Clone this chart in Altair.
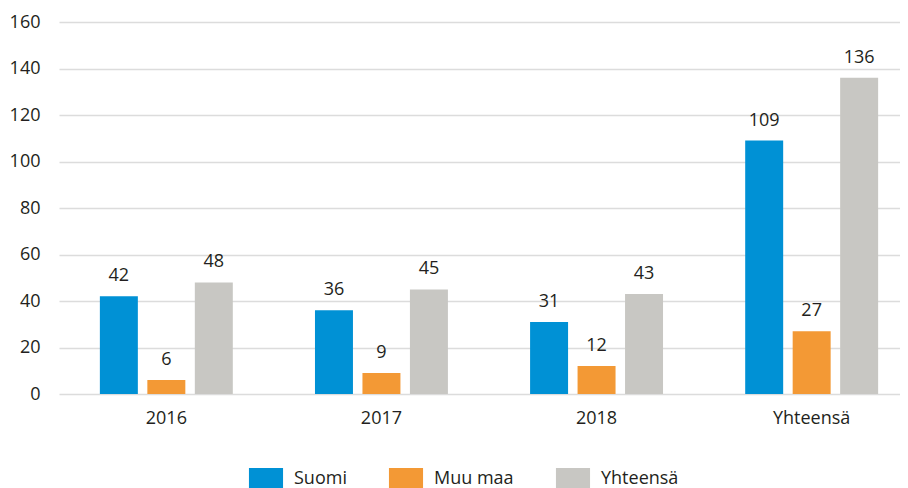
import altair as alt
import pandas as pd

categories = ["2016", "2017", "2018", "Yhteensä"]
series = ["Suomi", "Muu maa", "Yhteensä"]
suomi = [42, 36, 31, 109]
muu_maa = [6, 9, 12, 27]
yhteensa = [48, 45, 43, 136]
colors = ["#0091d5", "#f39935", "#c8c7c3"]
y_ticks = [0, 20, 40, 60, 80, 100, 120, 140, 160]

rows = []
for s, vals in zip(series, [suomi, muu_maa, yhteensa]):
    for c, v in zip(categories, vals):
        rows.append({"Vuosi": c, "Sarja": s, "Arvo": v})
df = pd.DataFrame(rows)

FONT = "Open Sans"
TXT = "#231f20"

base = alt.Chart(df).encode(
    x=alt.X("Vuosi:N", sort=categories,
            scale=alt.Scale(range=[0, 860], paddingInner=0.382, paddingOuter=0.19),
            axis=alt.Axis(title=None, labelAngle=0, ticks=False, domain=False,
                          labelFontSize=18, labelPadding=15, labelColor=TXT,
                          labelFont=FONT)),
    xOffset=alt.XOffset("Sarja:N", sort=series,
                        scale=alt.Scale(paddingInner=0.2, paddingOuter=0)),
)

bars = base.mark_bar().encode(
    y=alt.Y("Arvo:Q", scale=alt.Scale(domain=[0, 160], nice=False),
            axis=alt.Axis(title=None, values=y_ticks, ticks=False, domain=False,
                          labelFontSize=18, labelPadding=19, labelColor=TXT,
                          labelFont=FONT, gridColor="#dcdcdc", gridWidth=1.3)),
    color=alt.Color("Sarja:N", sort=series,
                    scale=alt.Scale(domain=series, range=colors),
                    legend=alt.Legend(title=None, orient="none", direction="horizontal",
                                      legendX=196, legendY=446,
                                      symbolType="M-1.55,-1L1.55,-1L1.55,1L-1.55,1Z",
                                      symbolSize=484, symbolStrokeWidth=0,
                                      symbolOpacity=1,
                                      labelFontSize=18, labelFont=FONT, labelColor=TXT,
                                      labelOffset=17, columnPadding=41, padding=0)),
)

labels = base.mark_text(baseline="alphabetic", dy=-15, fontSize=18, font=FONT,
                        color=TXT).encode(
    y=alt.Y("Arvo:Q"),
    text=alt.Text("Arvo:Q"),
)

chart = (bars + labels).properties(
    width=841, height=372,
    autosize=alt.AutoSizeParams(type="none"),
    padding={"left": 51, "top": 14, "right": 0, "bottom": 100},
).configure_view(stroke=None).configure_legend(symbolStrokeWidth=0)

chart.save("out.html", embed_options={"renderer": "svg", "actions": False})
